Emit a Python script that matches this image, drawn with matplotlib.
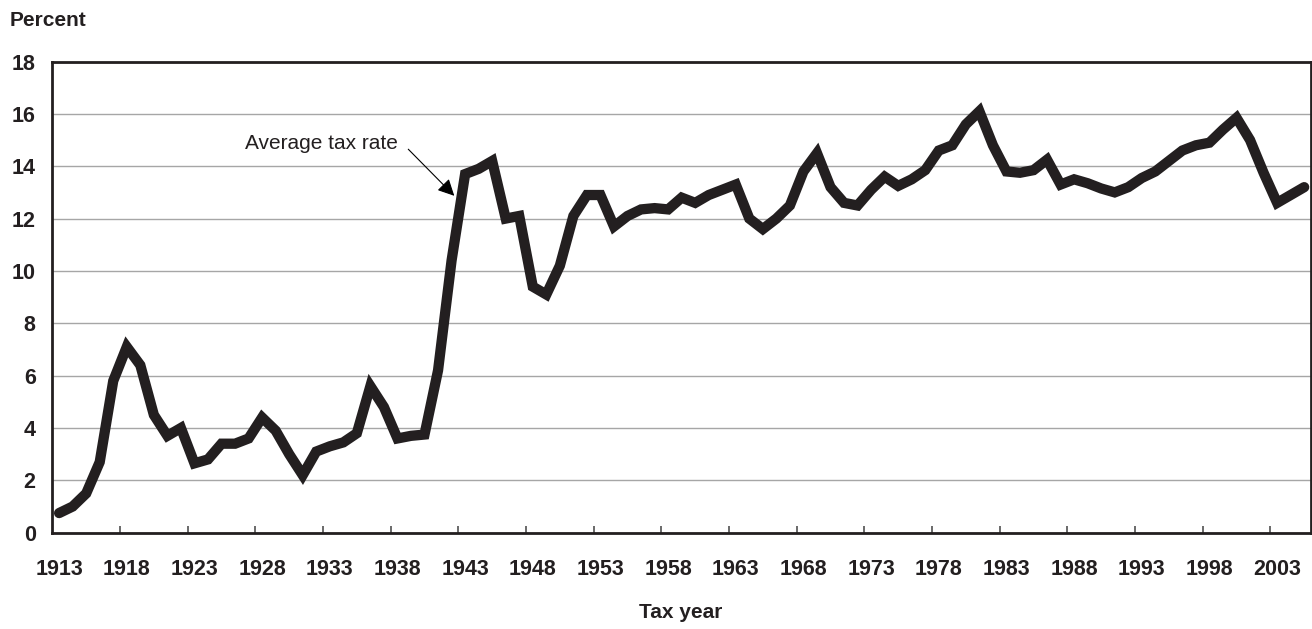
import matplotlib.pyplot as plt

plt.rcParams['font.family'] = ['Liberation Sans', 'DejaVu Sans']

# average tax rate by tax year
years = list(range(1913, 2006))
avg_rate = [
    0.75, 1.0, 1.5, 2.7, 5.8, 7.1, 6.4, 4.5, 3.7, 4.0,   # 1913-1922
    2.65, 2.8, 3.4, 3.4, 3.6, 4.4, 3.9, 3.0, 2.2, 3.1,   # 1923-1932
    3.3, 3.45, 3.8, 5.6, 4.8, 3.6, 3.7, 3.75, 6.2, 10.4, # 1933-1942
    13.7, 13.9, 14.2, 12.0, 12.1, 9.4, 9.1, 10.2, 12.1, 12.9,  # 1943-1952
    12.9, 11.7, 12.1, 12.35, 12.4, 12.35, 12.8, 12.6, 12.9, 13.1,  # 1953-1962
    13.3, 12.0, 11.6, 12.0, 12.5, 13.8, 14.5, 13.2, 12.6, 12.5,  # 1963-1972
    13.1, 13.6, 13.25, 13.5, 13.85, 14.6, 14.8, 15.6, 16.1, 14.8,  # 1973-1982
    13.8, 13.75, 13.85, 14.25, 13.3, 13.5, 13.35, 13.15, 13.0, 13.2,  # 1983-1992
    13.55, 13.8, 14.2, 14.6, 14.8, 14.9, 15.4, 15.85, 15.0, 13.75,  # 1993-2002
    12.6, 12.9, 13.2,  # 2003-2005
]
label_years = list(range(1913, 2004, 5))
y_ticks = list(range(0, 19, 2))

fig = plt.figure(figsize=(13.12, 6.29), dpi=100)
ax = fig.add_axes([0.0399, 0.1531, 0.9593, 0.7491])

ax.plot(years, avg_rate, color='#231f20', lw=7.4,
        solid_joinstyle='miter', solid_capstyle='round', zorder=3)

ax.set_xlim(1912.5, 2005.5)
ax.set_ylim(0, 18)

# labels sit on the categories, tick marks between them (Excel style)
ax.set_xticks(label_years)
ax.set_xticklabels([str(y) for y in label_years], fontsize=15.5, fontweight='bold')
ax.set_xticks([y - 0.5 for y in label_years[1:]], minor=True)
ax.tick_params(axis='x', which='major', length=0, pad=19, colors='#231f20')
ax.tick_params(axis='x', which='minor', direction='in', length=5, width=1.2, color='#505050')

ax.set_yticks(y_ticks)
ax.set_yticklabels([str(v) for v in y_ticks], fontsize=15.5, fontweight='bold')
ax.tick_params(axis='y', length=0, pad=12, colors='#231f20')

ax.yaxis.grid(True, color='#a6a6a6', lw=1)
ax.set_axisbelow(True)
for side in ['left', 'right', 'top', 'bottom']:
    ax.spines[side].set_color('#231f20')
    ax.spines[side].set_linewidth(2)

ax.annotate('', xy=(1942.2, 12.87), xytext=(1938.8, 14.65),
            arrowprops=dict(arrowstyle='-|>', mutation_scale=25, lw=0.8,
                            color='black', shrinkA=0, shrinkB=0), zorder=4)
ax.text(1938.05, 14.85, 'Average tax rate', fontsize=15, ha='right', va='center',
        color='#231f20')

fig.text(10 / 1312, 1 - 20 / 629, 'Percent', fontsize=15, fontweight='bold',
         ha='left', va='center', color='#231f20')
fig.text(681 / 1312, 1 - 612 / 629, 'Tax year', fontsize=15, fontweight='bold',
         ha='center', va='center', color='#231f20')

fig.savefig('out.png', dpi=100)
